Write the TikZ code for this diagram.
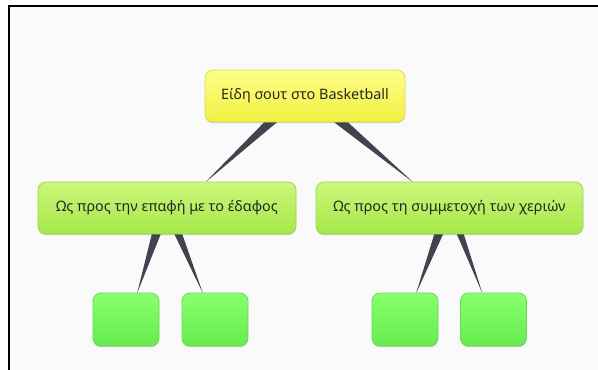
\documentclass[tikz,border=0pt]{standalone}
\usepackage{fontspec}
\setmainfont{Noto Sans}
\usetikzlibrary{calc,shadows}
\definecolor{bgc}{HTML}{FAFAFA}
\definecolor{ytop}{HTML}{FFFF88}
\definecolor{ybot}{HTML}{F0F040}
\definecolor{ybrd}{HTML}{DCDC5A}
\definecolor{gtop}{HTML}{CCF67C}
\definecolor{gbot}{HTML}{A6E848}
\definecolor{gbrd}{HTML}{9CD850}
\definecolor{ltop}{HTML}{88FF6E}
\definecolor{lbot}{HTML}{66EC4E}
\definecolor{lbrd}{HTML}{6ED858}
\definecolor{wedgec}{HTML}{41444F}
\definecolor{txt}{HTML}{262626}
\pgfdeclarelayer{back}
\pgfdeclarelayer{wedges}
\pgfsetlayers{back,wedges,main}
\tikzset{
  box/.style={rounded corners=8pt, line width=0.8pt, inner sep=0pt, text=txt,
    font=\fontsize{14.4}{17}\selectfont,
    drop shadow={shadow xshift=0pt, shadow yshift=-1.2pt, opacity=0.18, fill=black}},
  ybox/.style={box, draw=ybrd, top color=ytop, bottom color=ybot, minimum width=200pt, minimum height=52pt},
  gbox/.style={box, draw=gbrd, top color=gtop, bottom color=gbot, minimum height=52pt},
  lbox/.style={box, draw=lbrd, top color=ltop, bottom color=lbot, minimum width=66pt, minimum height=53pt},
  wedge/.style={fill=wedgec, draw=none}
}
\begin{document}
\begin{tikzpicture}[x=1pt,y=-1pt]
\useasboundingbox (0,0) rectangle (598,370);
\begin{pgfonlayer}{back}
  \fill[white] (0,0) rectangle (598,370);
  \fill[bgc] (9,6) rectangle (598,370);
  \draw[black, line width=2pt] (9,370) -- (9,6) -- (598,6);
\end{pgfonlayer}

\node[ybox] (root) at (305,96) {Είδη σουτ στο Basketball};
\node[gbox, minimum width=258pt] (m1) at (167,208) {Ως προς την επαφή με το έδαφος};
\node[gbox, minimum width=267pt] (m2) at (449.5,208) {Ως προς τη συμμετοχή των χεριών};
\node[lbox] (b1) at (126,319.5) {};
\node[lbox] (b2) at (215,319.5) {};
\node[lbox] (b3) at (405,319.5) {};
\node[lbox] (b4) at (493.5,319.5) {};

\begin{pgfonlayer}{wedges}
  \fill[wedge] ($(root.south)+(-40,-1)$) -- ($(root.south)+(-27,-1)$) -- ($(m1.north)+(38,1)$) -- cycle;
  \fill[wedge] ($(root.south)+(28,-1)$) -- ($(root.south)+(42,-1)$) -- ($(m2.north)+(-36,1)$) -- cycle;
  \fill[wedge] ($(m1.south)+(-15,-1)$) -- ($(m1.south)+(-6,-1)$) -- ($(b1.north)+(11,1)$) -- cycle;
  \fill[wedge] ($(m1.south)+(7,-1)$) -- ($(m1.south)+(15,-1)$) -- ($(b2.north)+(-12,1)$) -- cycle;
  \fill[wedge] ($(m2.south)+(-15,-1)$) -- ($(m2.south)+(-6,-1)$) -- ($(b3.north)+(11,1)$) -- cycle;
  \fill[wedge] ($(m2.south)+(7,-1)$) -- ($(m2.south)+(14,-1)$) -- ($(b4.north)+(-11,1)$) -- cycle;
\end{pgfonlayer}
\end{tikzpicture}
\end{document}
